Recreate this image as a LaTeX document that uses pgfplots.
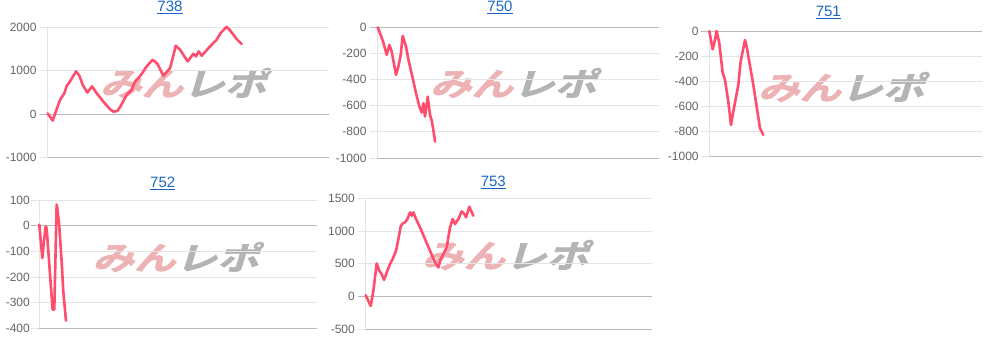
\documentclass[border=0pt]{standalone}
\usepackage{pgfplots}
\pgfplotsset{compat=1.18}
\usepackage{fontspec}
\setmainfont{Liberation Sans}
\newfontfamily\jpfont[FakeBold=2]{Noto Sans CJK JP Bold}
\definecolor{gridgrey}{RGB}{228,228,228}
\definecolor{zerogrey}{RGB}{185,185,185}
\definecolor{ticktext}{RGB}{100,100,100}
\definecolor{linered}{RGB}{255,77,109}
\definecolor{titleblue}{RGB}{25,103,200}
\definecolor{wmpink}{RGB}{236,178,180}
\definecolor{wmgrey}{RGB}{180,180,180}
\pgfplotsset{
  panel/.style={
    scale only axis, anchor=south west,
    axis x line*=bottom, axis y line*=left,
    x axis line style={draw=zerogrey, line width=0.9pt, -},
    y axis line style={draw=gridgrey, line width=0.9pt, -},
    xtick=\empty,
    ytick pos=left, tick align=outside, major tick length=8pt,
    tick style={draw=gridgrey, line width=0.9pt},
    ymajorgrids, major grid style={draw=gridgrey, line width=0.9pt},
    extra y ticks={0}, extra y tick labels={},
    extra y tick style={major grid style={draw=zerogrey, line width=0.9pt}, tick style={draw=zerogrey, line width=0.9pt}},
    yticklabel style={anchor=east, inner sep=0pt, xshift=-2.5pt, font=\fontsize{12}{12}\selectfont, text=ticktext},
    clip=false,
  },
  redline/.style={draw=linered, line width=2.6pt, line join=round, line cap=round, mark=none},
}
\newcommand{\wm}[1]{\node[transform shape, xslant=0.3, xscale=1.3, inner sep=0pt, font=\jpfont\fontsize{32}{32}\selectfont] at #1 {\textcolor{wmpink}{みん}\textcolor{wmgrey}{レポ}};}
\begin{document}
\begin{tikzpicture}
\useasboundingbox (0pt,0pt) rectangle (987pt,339pt);
% watermarks
\wm{(187pt,256pt)}
\wm{(517pt,256pt)}
\wm{(845pt,252pt)}
\wm{(179.5pt,82pt)}
\wm{(509pt,84pt)}
% titles
\begin{scope}[every node/.style={text=titleblue, font=\fontsize{15}{15}\selectfont, inner sep=0pt}]
\node at (170pt,331.5pt) {\underline{738}};
\node at (500pt,331.5pt) {\underline{750}};
\node at (828.3pt,326.5pt) {\underline{751}};
\node at (162.7pt,156pt) {\underline{752}};
\node at (493.3pt,157pt) {\underline{753}};
\end{scope}
% 738
\begin{axis}[panel, at={(47.7pt,181.3pt)}, width=281.3pt, height=130.4pt,
  xmin=143, xmax=987, ymin=-1000, ymax=2000, ytick={-1000,0,1000,2000},
  yticklabels={-1000,0,1000,2000}, yticklabel style={xshift=-0.5pt}]
\addplot[redline] coordinates {
(143,20) (158,-145) (172,160) (180,330) (193,485) (200,650) (210,755) (228,985)
(238,885) (248,675) (262,500) (276,640) (290,485) (310,290) (330,115) (340,60)
(352,75) (362,190) (380,445) (395,560) (405,755) (418,855) (430,985) (440,1100)
(458,1255) (472,1160) (490,885) (510,1060) (518,1290) (527,1575) (540,1485)
(563,1215) (580,1390) (588,1330) (596,1445) (605,1345) (630,1560) (650,1715)
(662,1870) (680,2010) (690,1930) (710,1730) (725,1615)};
\end{axis}
% 750
\begin{axis}[panel, at={(377.7pt,181pt)}, width=281.3pt, height=130.7pt,
  xmin=143, xmax=987, ymin=-1000, ymax=0, ytick={-1000,-800,-600,-400,-200,0},
  yticklabels={-1000,-800,-600,-400,-200,0}, yticklabel style={xshift=-0.5pt}]
\addplot[redline] coordinates {
(143,0) (152,-59) (160,-117) (170,-211) (178,-135) (185,-186) (198,-364) (205,-301)
(212,-211) (218,-66) (228,-148) (235,-245) (248,-390) (258,-505) (268,-606)
(275,-652) (280,-581) (285,-683) (293,-530) (300,-670) (305,-713) (310,-785) (315,-874)};
\end{axis}
% 751
\begin{axis}[panel, at={(709.3pt,182.3pt)}, width=272.4pt, height=125.7pt,
  xmin=148, xmax=965, ymin=-1000, ymax=0, ytick={-1000,-800,-600,-400,-200,0},
  yticklabels={-1000,-800,-600,-400,-200,0}]
\addplot[redline] coordinates {
(148,0) (158,-146) (165,-72) (170,0) (178,-98) (188,-331) (195,-389) (205,-562)
(213,-747) (220,-641) (235,-429) (242,-244) (255,-72) (260,-124) (280,-429)
(300,-773) (310,-826)};
\end{axis}
% 752
\begin{axis}[panel, at={(39.3pt,10.7pt)}, width=277.4pt, height=128.3pt,
  xmin=118, xmax=950, ymin=-400, ymax=100, ytick={-400,-300,-200,-100,0,100},
  yticklabels={-400,-300,-200,-100,0,100}, yticklabel style={xshift=1.2pt}]
\addplot[redline] coordinates {
(118,4) (127,-126) (132,-61) (137,-3) (140,-9) (148,-152) (158,-327) (163,-327)
(170,82) (172,69) (178,-3) (185,-139) (190,-256) (198,-370)};
\end{axis}
% 753
\begin{axis}[panel, at={(365.7pt,9.7pt)}, width=286pt, height=131pt,
  xmin=107, xmax=965, ymin=-500, ymax=1500, ytick={-500,0,500,1000,1500},
  yticklabels={-500,0,500,1000,1500}, yticklabel style={xshift=-0.2pt}]
\addplot[redline] coordinates {
(107,20) (122,-143) (130,87) (140,505) (148,393) (155,342) (162,255) (172,393)
(180,495) (190,597) (198,699) (205,877) (212,1071) (218,1117) (225,1132) (232,1183)
(240,1285) (245,1234) (250,1285) (258,1183) (270,1056) (285,877) (300,699)
(315,520) (325,444) (332,571) (340,648) (350,750) (360,1056) (368,1183) (375,1107)
(385,1183) (395,1300) (403,1260) (408,1209) (418,1372) (423,1311) (430,1234)};
\end{axis}
\end{tikzpicture}
\end{document}
